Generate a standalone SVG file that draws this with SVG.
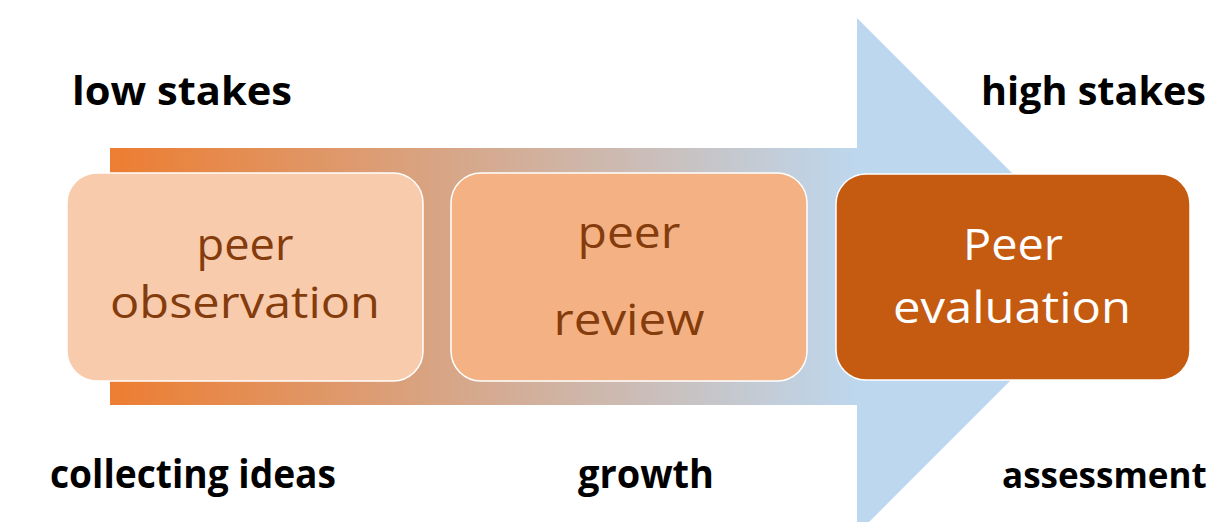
<svg xmlns="http://www.w3.org/2000/svg" width="1217" height="522" viewBox="0 0 1217 522">
  <defs>
    <linearGradient id="arrowFill" gradientUnits="userSpaceOnUse" x1="110" y1="0" x2="858" y2="0">
      <stop offset="0" stop-color="#ED7D31"/>
      <stop offset="1" stop-color="#BDD7EE"/>
    </linearGradient>
    <style>
      .box { stroke: #FFFFFF; stroke-width: 1.5; }
      .inner { font-family: "Open Sans", "Liberation Sans", sans-serif; font-size: 43px; text-anchor: middle; }
      .dark { fill: #843C0C; }
      .light { fill: #FFFFFF; }
      .label { font-family: "Open Sans", "Liberation Sans", sans-serif; font-size: 40px; font-weight: bold; fill: #000000; }
    </style>
  </defs>
  <rect width="1217" height="522" fill="#FFFFFF"/>

  <!-- background progression arrow -->
  <g id="connectors">
    <path d="M110,148 H857 V18 L1115,276 L857,534 V405 H110 Z" fill="url(#arrowFill)"/>
  </g>

  <g id="node-observation">
    <rect class="box" x="67" y="173" width="356" height="208" rx="30" fill="#F8CBAD"/>
    <text class="inner dark" x="245" y="260" textLength="97" lengthAdjust="spacingAndGlyphs">peer</text>
    <text class="inner dark" x="245" y="318" textLength="270" lengthAdjust="spacingAndGlyphs">observation</text>
  </g>

  <g id="node-review">
    <rect class="box" x="451" y="173" width="356" height="208" rx="30" fill="#F4B183"/>
    <text class="inner dark" x="629" y="248" textLength="103" lengthAdjust="spacingAndGlyphs">peer</text>
    <text class="inner dark" x="629" y="335" textLength="151" lengthAdjust="spacingAndGlyphs">review</text>
  </g>

  <g id="node-evaluation">
    <rect class="box" x="836" y="174" width="354" height="206" rx="30" fill="#C55A11"/>
    <text class="inner light" x="1013" y="260" textLength="100" lengthAdjust="spacingAndGlyphs">Peer</text>
    <text class="inner light" x="1012" y="323" textLength="238" lengthAdjust="spacingAndGlyphs">evaluation</text>
  </g>

  <g id="labels">
    <text class="label" x="72" y="105" textLength="220" lengthAdjust="spacingAndGlyphs">low stakes</text>
    <text class="label" x="981" y="105" textLength="225" lengthAdjust="spacingAndGlyphs">high stakes</text>
    <text class="label" x="50" y="488" textLength="286" lengthAdjust="spacingAndGlyphs">collecting ideas</text>
    <text class="label" x="578" y="488" textLength="136" lengthAdjust="spacingAndGlyphs">growth</text>
    <text class="label" x="1002" y="488" style="font-size:35px">assessment</text>
  </g>
</svg>
